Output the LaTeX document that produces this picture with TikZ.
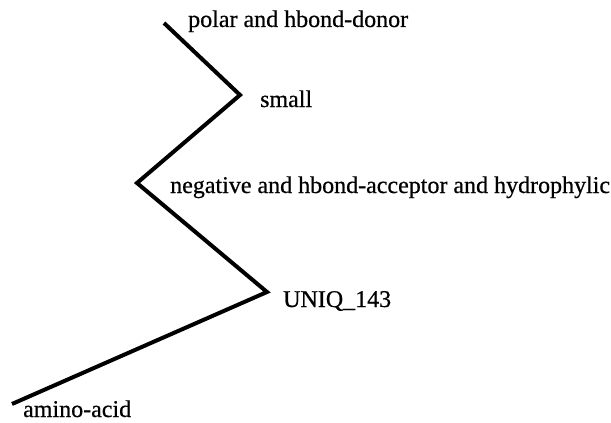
\documentclass[tikz,border=0pt]{standalone}
\usepackage{fontspec}
\setmainfont[FakeBold=0.6]{Liberation Serif}
\usetikzlibrary{calc,positioning}
\tikzstyle{branch} = [line width=4pt,black]
\tikzstyle{lbl} = [anchor=base west,inner sep=0pt,font=\fontsize{24}{28}\selectfont]

\begin{document}
\begin{tikzpicture}[x=1pt,y=-1pt]

\useasboundingbox (0,0) rectangle (611,423);

\coordinate (root) at (12,404);
\coordinate (uniq) at (267,292);
\coordinate (neg) at (137,183);
\coordinate (small) at (240,95);
\coordinate (polar) at (164,23);

\node (lroot) [lbl,shift={(11,13)}] at (root) {amino-acid};
\node (luniq) [lbl,shift={(16,15)}] at (uniq) {UNIQ\_143};
\node (lneg) [lbl,shift={(33,10)}] at (neg) {negative and hbond-acceptor and hydrophylic};
\node (lsmall) [lbl,shift={(20,12)}] at (small) {small};
\node (lpolar) [lbl,shift={(24,4)}] at (polar) {polar and hbond-donor};

\draw[branch] (root)--(uniq)--(neg)--(small)--(polar);

\end{tikzpicture}
\end{document}
